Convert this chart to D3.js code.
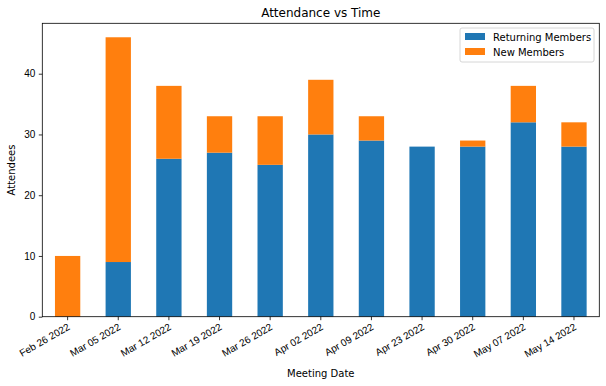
<!DOCTYPE html>
<html>
<head>
<meta charset="utf-8">
<script src="https://cdn.jsdelivr.net/npm/d3@7"></script>
<style>
  body { margin: 0; background: #fff; }
  svg { font-family: "DejaVu Sans", sans-serif; }
</style>
</head>
<body>
<script>
const width = 606;
const height = 386;

const dates = ["Feb 26 2022", "Mar 05 2022", "Mar 12 2022", "Mar 19 2022", "Mar 26 2022",
  "Apr 02 2022", "Apr 09 2022", "Apr 23 2022", "Apr 30 2022", "May 07 2022", "May 14 2022"];
const returning = [0, 9, 26, 27, 25, 30, 29, 28, 28, 32, 28];
const newMembers = [10, 37, 12, 6, 8, 9, 4, 0, 1, 6, 4];
const yTicks = [0, 10, 20, 30, 40];
const seriesNames = ["Returning Members", "New Members"];
const colors = ["#1f77b4", "#ff7f0e"];

const margin = {left: 42.3, right: 606 - 599.3, top: 23.3, bottom: 386 - 316.7};

const svg = d3.select('body')
  .append('svg')
  .attr('width', width)
  .attr('height', height);

const rows = dates.map((d, i) => ({date: d, returning: returning[i], newMembers: newMembers[i]}));
const stacked = d3.stack().keys(["returning", "newMembers"])(rows);

const x = d3.scaleBand()
  .domain(dates)
  .range([margin.left, width - margin.right])
  .paddingInner(0.5)
  .paddingOuter(0.25);

const maxTotal = d3.max(rows, r => r.returning + r.newMembers);
const y = d3.scaleLinear()
  .domain([0, maxTotal * 1.05])
  .range([height - margin.bottom, margin.top]);

svg.append('g')
  .selectAll('g')
  .data(stacked)
  .join('g')
    .attr('fill', (d, i) => colors[i])
  .selectAll('rect')
  .data(d => d)
  .join('rect')
    .attr('x', d => x(d.data.date))
    .attr('width', x.bandwidth())
    .attr('y', d => y(d[1]))
    .attr('height', d => y(d[0]) - y(d[1]));

// x axis
const xAxis = svg.append('g')
  .attr('transform', `translate(0,${height - margin.bottom})`)
  .call(d3.axisBottom(x).tickSize(3.5).tickPadding(3.5).tickSizeOuter(0));
xAxis.select('.domain').remove();
xAxis.selectAll('text')
  .attr('font-size', 10)
  .attr('fill', '#000')
  .attr('text-anchor', 'end')
  .attr('dy', '0.6em')
  .attr('transform', 'rotate(-30,0,7)')
  .attr('y', 7);
xAxis.selectAll('line').attr('stroke', '#000').attr('stroke-width', 0.8);

// y axis
const yAxis = svg.append('g')
  .attr('transform', `translate(${margin.left},0)`)
  .call(d3.axisLeft(y).tickValues(yTicks).tickSize(3.5).tickPadding(3.5));
yAxis.select('.domain').remove();
yAxis.selectAll('text').attr('font-size', 10).attr('fill', '#000');
yAxis.selectAll('line').attr('stroke', '#000').attr('stroke-width', 0.8);

// frame
svg.append('rect')
  .attr('x', margin.left)
  .attr('y', margin.top)
  .attr('width', width - margin.right - margin.left)
  .attr('height', height - margin.bottom - margin.top)
  .attr('fill', 'none')
  .attr('stroke', '#000')
  .attr('stroke-width', 0.8);

// title and labels
svg.append('text')
  .attr('x', (margin.left + width - margin.right) / 2)
  .attr('y', margin.top - 6)
  .attr('text-anchor', 'middle')
  .attr('font-size', 12)
  .text('Attendance vs Time');

svg.append('text')
  .attr('x', (margin.left + width - margin.right) / 2)
  .attr('y', 377)
  .attr('text-anchor', 'middle')
  .attr('font-size', 10)
  .text('Meeting Date');

svg.append('text')
  .attr('transform', `translate(15,${(margin.top + height - margin.bottom) / 2}) rotate(-90)`)
  .attr('text-anchor', 'middle')
  .attr('font-size', 10)
  .text('Attendees');

// legend
const legend = svg.append('g').attr('transform', 'translate(460,28)');
legend.append('rect')
  .attr('width', 134)
  .attr('height', 34)
  .attr('rx', 2)
  .attr('fill', '#fff')
  .attr('fill-opacity', 0.8)
  .attr('stroke', '#ccc')
  .attr('stroke-width', 0.8);
const items = legend.selectAll('g.item')
  .data(seriesNames)
  .join('g')
    .attr('class', 'item')
    .attr('transform', (d, i) => `translate(5,${5 + i * 15})`);
items.append('rect')
  .attr('width', 20)
  .attr('height', 7)
  .attr('fill', (d, i) => colors[i]);
items.append('text')
  .attr('x', 28)
  .attr('y', 7.5)
  .attr('font-size', 10)
  .text(d => d);
</script>
</body>
</html>
